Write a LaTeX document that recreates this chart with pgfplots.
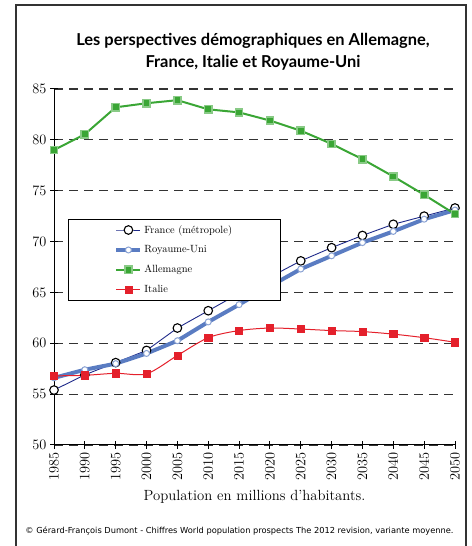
\documentclass[border=0pt]{standalone}
\usepackage{pgfplots}
\pgfplotsset{compat=1.18}
\usepackage{fontspec}
\newfontfamily\titlefont{Lato}
\newfontfamily\notefont{DejaVu Sans}
\definecolor{frnavy}{HTML}{1F2A8A}
\definecolor{ukblue}{HTML}{5A7CC2}
\definecolor{degreen}{HTML}{3AA635}
\definecolor{itred}{HTML}{E4202B}
\begin{document}
\begin{tikzpicture}
\useasboundingbox (0bp,0bp) rectangle (472bp,546bp);
\draw[black!80, line width=1.2bp] (16bp,-2bp) -- (16bp,541bp) -- (466bp,541bp) -- (466bp,-2bp);
\node[font=\titlefont\bfseries\fontsize{16.5}{22}\selectfont, align=center] at (253bp,494bp)
  {Les perspectives démographiques en Allemagne,\\France, Italie et Royaume-Uni};
\begin{axis}[
  at={(54bp,101bp)}, anchor=south west,
  scale only axis, width=401bp, height=356bp,
  xmin=1985, xmax=2050, ymin=50, ymax=85,
  axis x line*=bottom, axis y line*=left,
  axis line style={line width=1bp, -},
  xtick={1985,1990,...,2050}, ytick={50,55,...,85},
  tick align=center, major tick length=8bp,
  tick style={line width=1bp, black},
  ymajorgrids,
  major grid style={black!80, line width=1.1bp, dash pattern=on 9bp off 6bp},
  x tick label style={rotate=90, anchor=east, font=\fontsize{13.5}{15}\selectfont},
  y tick label style={font=\fontsize{13.5}{15}\selectfont},
  /pgf/number format/1000 sep={},
  legend style={at={(0.035,0.635)}, anchor=north west, draw=black, line width=0.8bp,
    fill=white, font=\fontsize{10.5}{12}\selectfont, inner xsep=46bp, inner ysep=4bp,
    row sep=7bp},
  legend cell align=left,
  legend image code/.code={\draw[mark repeat=2,mark phase=2] plot coordinates {(0bp,0bp) (12bp,0bp) (24bp,0bp)};},
]
\addplot[frnavy, line width=0.9bp, mark=*, mark size=4.3bp,
  mark options={fill=white, draw=black, line width=1.1bp}] coordinates {
(1985,55.4) (1990,56.9) (1995,58.1) (2000,59.3) (2005,61.5) (2010,63.2) (2015,64.9)
(2020,66.5) (2025,68.1) (2030,69.4) (2035,70.6) (2040,71.7) (2045,72.5) (2050,73.3)};
\addlegendentry{France (métropole)}
\addplot[ukblue, line width=4bp, mark=*, mark size=3bp,
  mark options={fill=white, draw=ukblue!70, line width=1bp}] coordinates {
(1985,56.6) (1990,57.4) (1995,58.0) (2000,59.0) (2005,60.25) (2010,62.1) (2015,63.8)
(2020,65.6) (2025,67.3) (2030,68.6) (2035,69.9) (2040,71.0) (2045,72.2) (2050,73.1)};
\addlegendentry{Royaume-Uni}
\addplot[degreen, line width=2bp, mark=square*, mark size=3.6bp,
  mark options={fill=degreen, draw=degreen!60, line width=1.5bp}] coordinates {
(1985,79.0) (1990,80.55) (1995,83.2) (2000,83.6) (2005,83.9) (2010,83.0) (2015,82.7)
(2020,81.9) (2025,80.9) (2030,79.6) (2035,78.1) (2040,76.4) (2045,74.6) (2050,72.7)};
\addlegendentry{Allemagne}
\addplot[itred, line width=1bp, smooth, mark=square*, mark size=3.6bp,
  mark options={fill=itred, draw=itred, line width=0.5bp}] coordinates {
(1985,56.8) (1990,56.85) (1995,57.05) (2000,57.0) (2005,58.8) (2010,60.55) (2015,61.25)
(2020,61.5) (2025,61.4) (2030,61.25) (2035,61.15) (2040,60.9) (2045,60.55) (2050,60.1)};
\addlegendentry{Italie}
\end{axis}
\node[font=\fontsize{14.8}{17}\selectfont] at (254.5bp,49bp) {Population en millions d'habitants.};
\node[font=\notefont\fontsize{8.3}{10}\selectfont] at (239.5bp,15bp) {© Gérard-François Dumont - Chiffres World population prospects The 2012 revision, variante moyenne.};
\end{tikzpicture}
\end{document}
